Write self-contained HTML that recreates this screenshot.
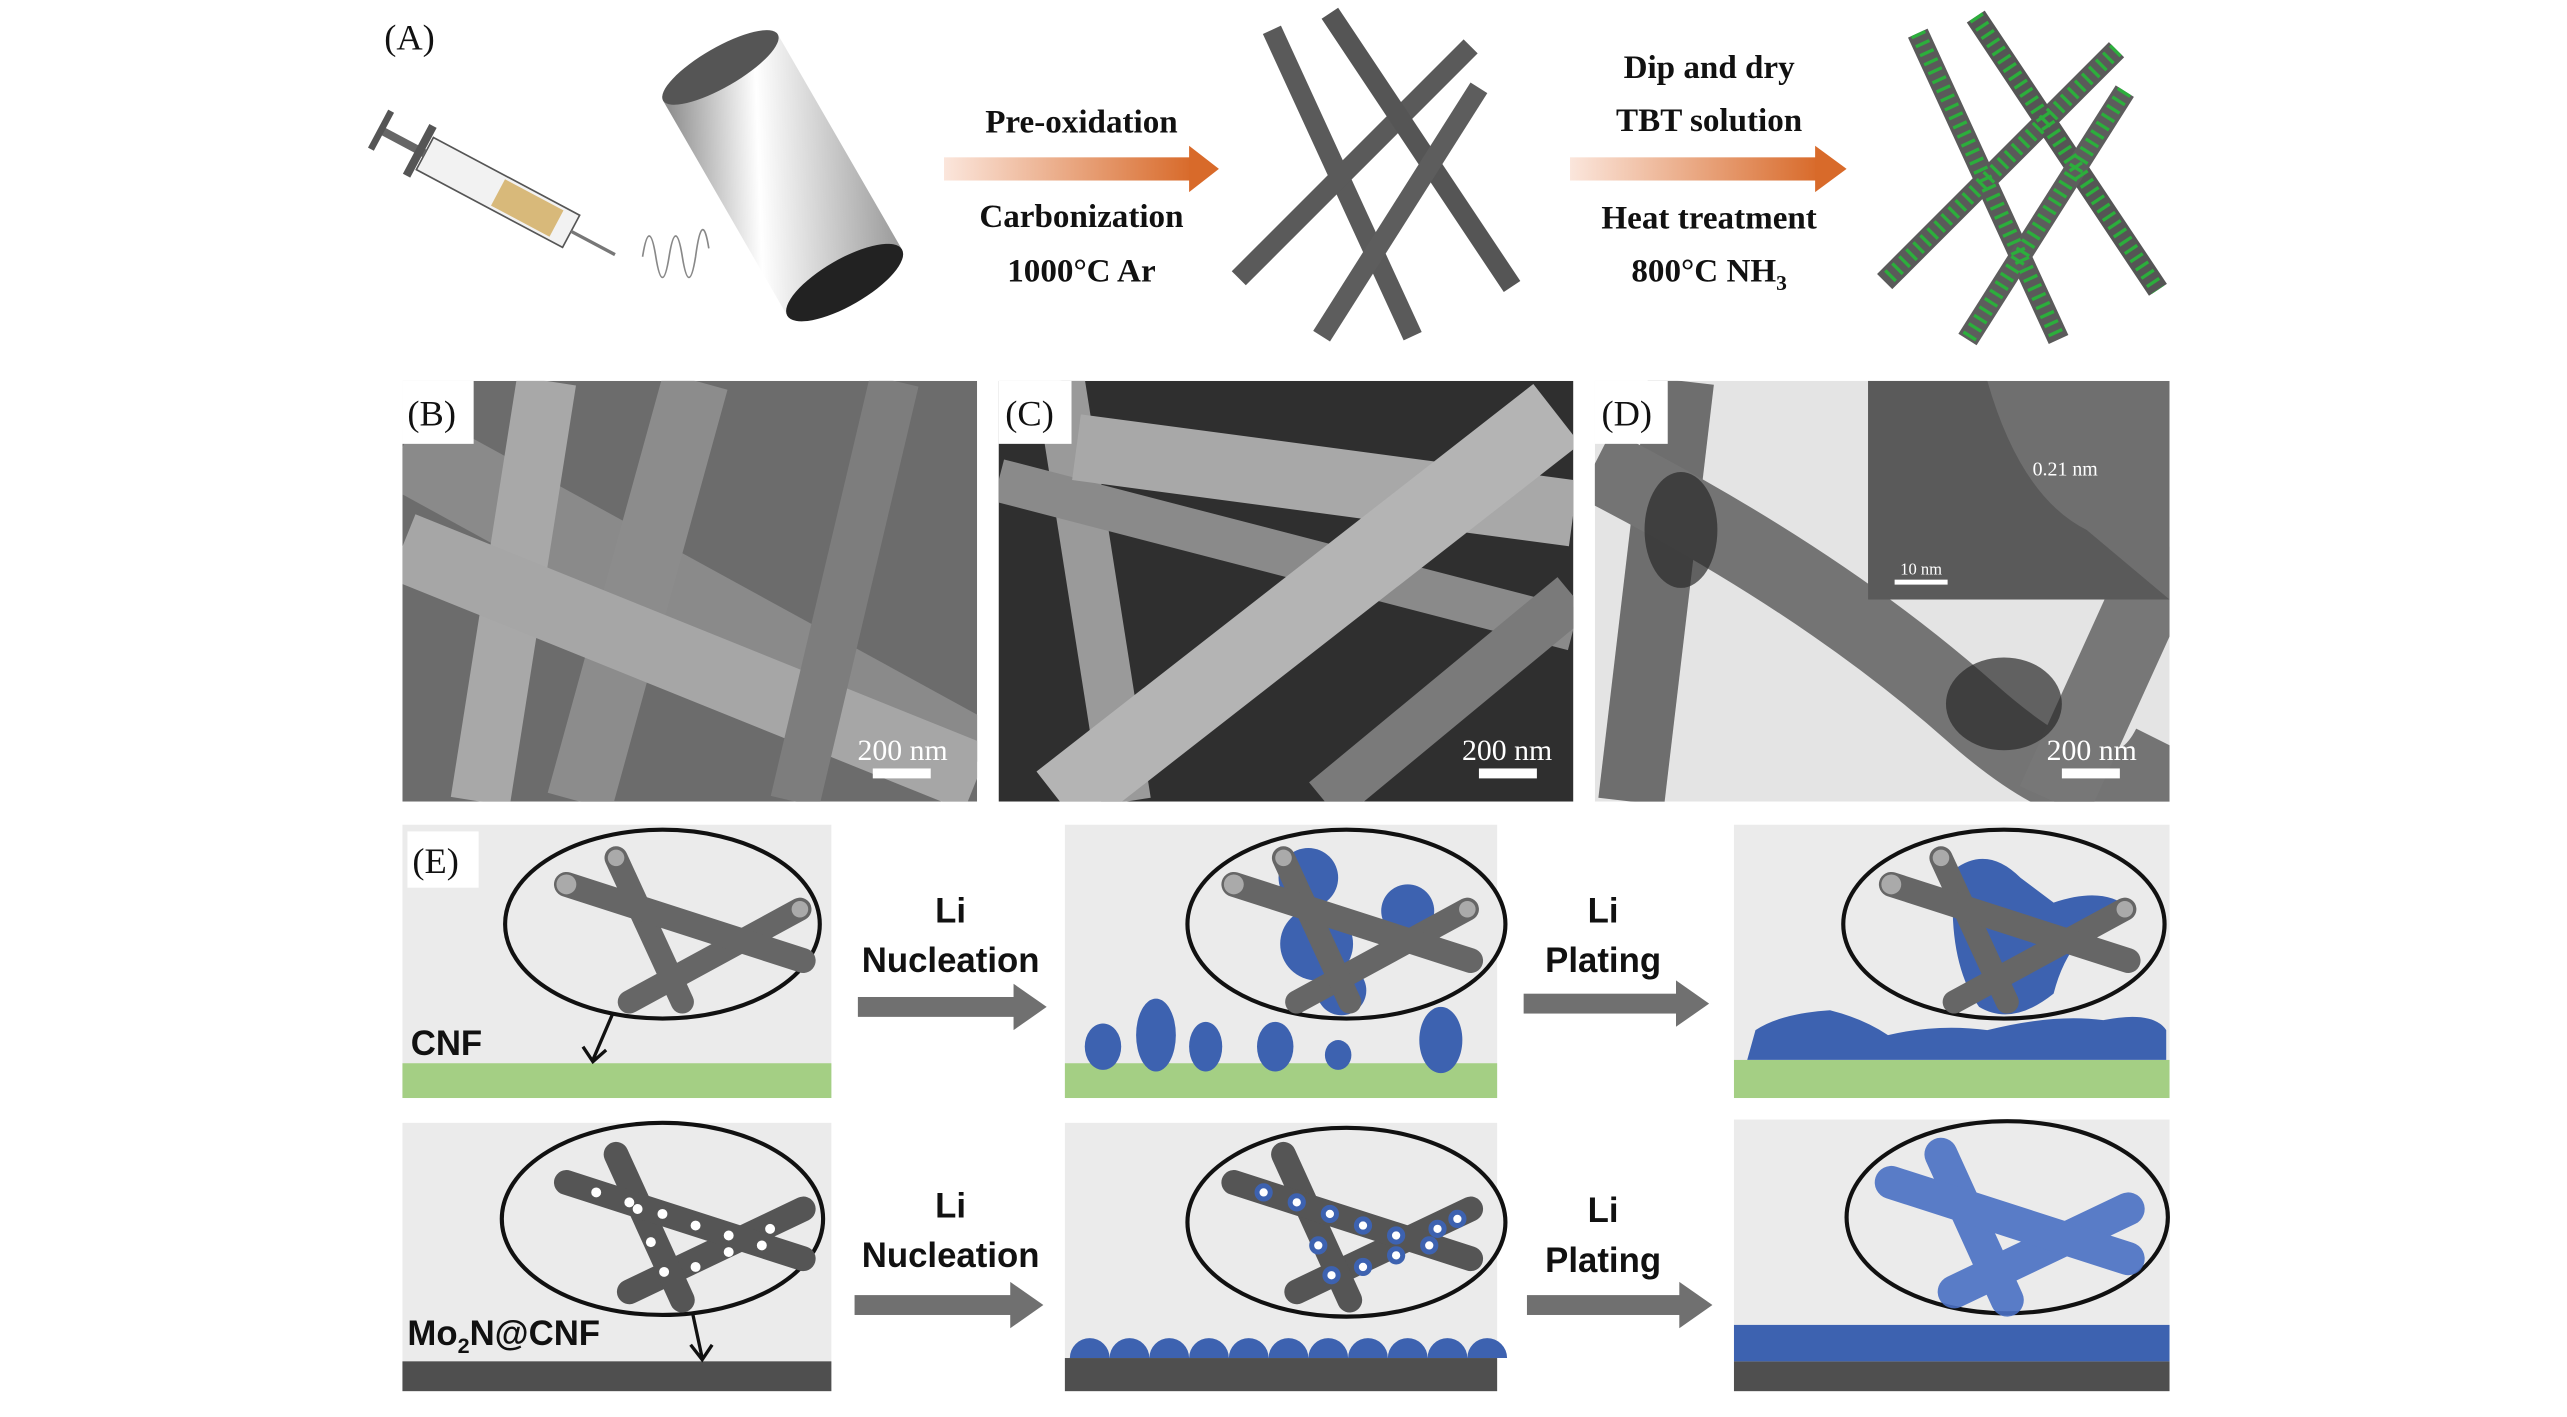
<!DOCTYPE html>
<html><head><meta charset="utf-8"><style>
html,body{margin:0;padding:0;background:#fff;width:2567px;height:1417px;overflow:hidden}
svg{display:block}
.s{font-family:"Liberation Serif",serif;font-weight:bold;fill:#111}
.l{font-family:"Liberation Serif",serif;fill:#111}
.a{font-family:"Liberation Sans",sans-serif;font-weight:bold;fill:#111}
.w{font-family:"Liberation Serif",serif;fill:#fff}
</style></head><body>
<svg width="2567" height="1417" viewBox="0 0 1550 855.6" xmlns="http://www.w3.org/2000/svg">
<defs>
<linearGradient id="og" x1="0" x2="1"><stop offset="0" stop-color="#fbe6dc"/><stop offset="1" stop-color="#d86a2a"/></linearGradient>
<linearGradient id="cyl" x1="0" y1="0" x2="1" y2="1"><stop offset="0" stop-color="#888"/><stop offset=".4" stop-color="#fff"/><stop offset="1" stop-color="#999"/></linearGradient>
<clipPath id="cB"><rect x="243" y="230" width="347" height="254"/></clipPath>
<clipPath id="cC"><rect x="603" y="230" width="347" height="254"/></clipPath>
<clipPath id="cD"><rect x="963" y="230" width="347" height="254"/></clipPath>
</defs>
<text x="232" y="30" class="l" font-size="22">(A)</text>
<!-- syringe -->
<g transform="rotate(28 310 120)">
<rect x="250" y="110" width="100" height="22" fill="#f2f2f2" stroke="#555"/>
<rect x="300" y="112" width="40" height="18" fill="#d8b97a"/>
<line x1="220" y1="121" x2="250" y2="121" stroke="#666" stroke-width="5"/>
<rect x="244" y="104" width="5" height="34" fill="#555"/>
<rect x="218" y="108" width="4" height="26" fill="#555"/>
<line x1="350" y1="121" x2="380" y2="121" stroke="#777" stroke-width="2"/>
</g>
<path d="M388 155 q4 -25 8 0 q4 25 8 0 q4 -25 8 0 q4 25 8 0 q4 -30 8 -5" fill="none" stroke="#888" stroke-width="1"/>
<g transform="rotate(-30 475 110)">
<rect x="435" y="30" width="80" height="150" fill="url(#cyl)"/>
<ellipse cx="475" cy="30" rx="40" ry="12" fill="#555"/>
<ellipse cx="475" cy="180" rx="40" ry="14" fill="#222"/>
</g>
<!-- arrows -->
<rect x="570" y="95" width="150" height="14" fill="url(#og)"/><polygon points="718,88 736,102 718,116" fill="#d86a2a"/>
<rect x="948" y="95" width="150" height="14" fill="url(#og)"/><polygon points="1096,88 1115,102 1096,116" fill="#d86a2a"/>
<text x="653" y="80" class="s" font-size="20" text-anchor="middle">Pre-oxidation</text>
<text x="653" y="137" class="s" font-size="20" text-anchor="middle">Carbonization</text>
<text x="653" y="170" class="s" font-size="20" text-anchor="middle">1000°C Ar</text>
<text x="1032" y="47" class="s" font-size="20" text-anchor="middle">Dip and dry</text>
<text x="1032" y="79" class="s" font-size="20" text-anchor="middle">TBT solution</text>
<text x="1032" y="138" class="s" font-size="20" text-anchor="middle">Heat treatment</text>
<text x="1032" y="170" class="s" font-size="20" text-anchor="middle">800°C NH<tspan font-size="13" dy="5">3</tspan></text>
<g transform="translate(828 108)">
<line x1="-60" y1="-90" x2="25" y2="95" stroke="#5a5a5a" stroke-width="12"/>
<line x1="60" y1="-80" x2="-80" y2="60" stroke="#5a5a5a" stroke-width="12"/>
<line x1="-25" y1="-100" x2="85" y2="65" stroke="#555" stroke-width="12"/>
<line x1="65" y1="-55" x2="-30" y2="95" stroke="#5d5d5d" stroke-width="12"/>
</g>
<g transform="translate(1218 110)">
<line x1="-60" y1="-90" x2="25" y2="95" stroke="#5a5a5a" stroke-width="13"/>
<line x1="60" y1="-80" x2="-80" y2="60" stroke="#5a5a5a" stroke-width="13"/>
<line x1="-25" y1="-100" x2="85" y2="65" stroke="#555" stroke-width="13"/>
<line x1="65" y1="-55" x2="-30" y2="95" stroke="#5d5d5d" stroke-width="13"/>
<g stroke-dasharray="2 4" stroke="#2cae3c" stroke-width="9">
<line x1="-60" y1="-90" x2="25" y2="95"/>
<line x1="60" y1="-80" x2="-80" y2="60"/>
<line x1="-25" y1="-100" x2="85" y2="65"/>
<line x1="65" y1="-55" x2="-30" y2="95"/>
</g></g>
<!-- B -->
<g clip-path="url(#cB)">
<rect x="243" y="230" width="347" height="254" fill="#6c6c6c"/>
<line x1="243" y1="270" x2="590" y2="460" stroke="#8a8a8a" stroke-width="50"/>
<line x1="330" y1="230" x2="290" y2="484" stroke="#a8a8a8" stroke-width="36"/>
<line x1="420" y1="230" x2="350" y2="484" stroke="#8c8c8c" stroke-width="40"/>
<line x1="243" y1="330" x2="590" y2="470" stroke="#a6a6a6" stroke-width="42"/>
<line x1="540" y1="230" x2="480" y2="484" stroke="#7d7d7d" stroke-width="30"/>
</g>
<rect x="243" y="230" width="43" height="38" fill="#fff"/><text x="246" y="257" class="l" font-size="22">(B)</text>
<text x="545" y="459" class="w" font-size="18" text-anchor="middle">200 nm</text><rect x="527" y="464" width="35" height="6" fill="#fff"/>
<!-- C -->
<g clip-path="url(#cC)">
<rect x="603" y="230" width="347" height="254" fill="#2f2f2f"/>
<line x1="640" y1="230" x2="680" y2="484" stroke="#9a9a9a" stroke-width="30"/>
<line x1="603" y1="290" x2="950" y2="380" stroke="#8a8a8a" stroke-width="26"/>
<line x1="650" y1="270" x2="950" y2="310" stroke="#a8a8a8" stroke-width="40"/>
<line x1="940" y1="250" x2="640" y2="484" stroke="#b4b4b4" stroke-width="46"/>
<line x1="950" y1="360" x2="800" y2="484" stroke="#7a7a7a" stroke-width="30"/>
</g>
<rect x="603" y="230" width="44" height="38" fill="#fff"/><text x="607" y="257" class="l" font-size="22">(C)</text>
<text x="910" y="459" class="w" font-size="18" text-anchor="middle">200 nm</text><rect x="893" y="464" width="35" height="6" fill="#fff"/>
<!-- D -->
<g clip-path="url(#cD)">
<rect x="963" y="230" width="347" height="254" fill="#e4e4e4"/>
<line x1="1015" y1="230" x2="985" y2="484" stroke="#6e6e6e" stroke-width="40"/>
<path d="M963 280 Q1100 350 1190 430 T1310 450" fill="none" stroke="#747474" stroke-width="45"/>
<line x1="1310" y1="330" x2="1240" y2="484" stroke="#777" stroke-width="45"/>
<ellipse cx="1015" cy="320" rx="22" ry="35" fill="#2a2a2a" opacity=".7"/>
<ellipse cx="1210" cy="425" rx="35" ry="28" fill="#2a2a2a" opacity=".7"/>
<rect x="1128" y="230" width="182" height="132" fill="#6f6f6f"/>
<path d="M1128 230 L1200 230 Q1220 300 1260 320 L1310 362 L1128 362Z" fill="#5a5a5a"/>
</g>
<text x="1247" y="287" class="w" font-size="12" text-anchor="middle">0.21 nm</text>
<text x="1160" y="347" class="w" font-size="10" text-anchor="middle">10 nm</text><rect x="1144" y="350" width="32" height="3" fill="#fff"/>
<rect x="963" y="230" width="44" height="38" fill="#fff"/><text x="967" y="257" class="l" font-size="22">(D)</text>
<text x="1263" y="459" class="w" font-size="18" text-anchor="middle">200 nm</text><rect x="1245" y="464" width="35" height="6" fill="#fff"/>
<!-- E panels -->
<g fill="#ebebeb">
<rect x="243" y="498" width="259" height="165"/><rect x="643" y="498" width="261" height="165"/><rect x="1047" y="498" width="263" height="165"/>
<rect x="243" y="678" width="259" height="162"/><rect x="643" y="678" width="261" height="162"/><rect x="1047" y="676" width="263" height="164"/>
</g>
<rect x="243" y="642" width="259" height="21" fill="#a4cf84"/>
<rect x="643" y="642" width="261" height="21" fill="#a4cf84"/>
<rect x="1047" y="640" width="263" height="23" fill="#a4cf84"/>
<rect x="243" y="822" width="259" height="18" fill="#4f4f4f"/>
<rect x="643" y="820" width="261" height="20" fill="#4f4f4f"/>
<rect x="1047" y="822" width="263" height="18" fill="#4f4f4f"/>
<g fill="#3d62b0">
<ellipse cx="666" cy="632" rx="11" ry="14"/><ellipse cx="698" cy="625" rx="12" ry="22"/><ellipse cx="728" cy="632" rx="10" ry="15"/>
<ellipse cx="770" cy="632" rx="11" ry="15"/><ellipse cx="808" cy="637" rx="8" ry="9"/><ellipse cx="870" cy="628" rx="13" ry="20"/>
<path d="M1055 640 L1060 622 Q1075 612 1105 610 Q1125 615 1140 625 Q1170 618 1200 622 Q1240 612 1270 616 Q1300 610 1308 622 L1308 640Z"/>
<rect x="1047" y="800" width="263" height="22"/>
<path d="M646 820 a12 12 0 0 1 24 0 a12 12 0 0 1 24 0 a12 12 0 0 1 24 0 a12 12 0 0 1 24 0 a12 12 0 0 1 24 0 a12 12 0 0 1 24 0 a12 12 0 0 1 24 0 a12 12 0 0 1 24 0 a12 12 0 0 1 24 0 a12 12 0 0 1 24 0 a12 12 0 0 1 24 0Z"/>
</g>
<g stroke="#111" stroke-width="2.5" fill="#ebebeb">
<ellipse cx="400" cy="558" rx="95" ry="57"/><ellipse cx="813" cy="558" rx="96" ry="57"/><ellipse cx="1210" cy="558" rx="97" ry="57"/>
<ellipse cx="400" cy="736" rx="97" ry="58"/><ellipse cx="813" cy="738" rx="96" ry="57"/><ellipse cx="1212" cy="735" rx="97" ry="58"/>
</g>
<g fill="#3d62b0">
<circle cx="790" cy="530" r="18"/><circle cx="795" cy="570" r="22"/><circle cx="850" cy="550" r="16"/><circle cx="810" cy="598" r="15"/>
<path d="M1180 525 Q1200 510 1220 530 L1240 545 Q1270 535 1285 548 Q1250 560 1240 600 Q1215 620 1195 608 Q1175 580 1180 525Z"/>
</g>
<g id="r1" stroke-linecap="round">
<line x1="380" y1="605" x2="483" y2="549" stroke="#666" stroke-width="14"/>
<line x1="372" y1="518" x2="412" y2="605" stroke="#666" stroke-width="14"/>
<line x1="342" y1="534" x2="485" y2="580" stroke="#666" stroke-width="15"/>
<circle cx="342" cy="534" r="6" fill="#aaa"/><circle cx="372" cy="518" r="5" fill="#aaa"/><circle cx="483" cy="549" r="5" fill="#aaa"/>
</g>
<use href="#r1" x="403" y="0"/><use href="#r1" x="800" y="0"/>
<g stroke-linecap="round">
<line x1="380" y1="780" x2="485" y2="730" stroke="#555" stroke-width="15"/>
<line x1="372" y1="697" x2="412" y2="785" stroke="#555" stroke-width="15"/>
<line x1="342" y1="714" x2="485" y2="760" stroke="#555" stroke-width="15"/>
</g>
<g fill="#fff">
<circle cx="360" cy="720" r="3"/><circle cx="380" cy="726" r="3"/><circle cx="400" cy="733" r="3"/><circle cx="420" cy="740" r="3"/><circle cx="440" cy="746" r="3"/><circle cx="460" cy="752" r="3"/>
<circle cx="385" cy="730" r="3"/><circle cx="393" cy="750" r="3"/><circle cx="401" cy="768" r="3"/><circle cx="440" cy="756" r="3"/><circle cx="465" cy="742" r="3"/><circle cx="420" cy="765" r="3"/>
</g>
<g stroke-linecap="round">
<line x1="783" y1="780" x2="888" y2="730" stroke="#555" stroke-width="15"/>
<line x1="775" y1="697" x2="815" y2="785" stroke="#555" stroke-width="15"/>
<line x1="745" y1="714" x2="888" y2="760" stroke="#555" stroke-width="15"/>
</g>
<g fill="#fff" stroke="#3d62b0" stroke-width="3">
<circle cx="763" cy="720" r="4"/><circle cx="783" cy="726" r="4"/><circle cx="803" cy="733" r="4"/><circle cx="823" cy="740" r="4"/><circle cx="843" cy="746" r="4"/><circle cx="863" cy="752" r="4"/>
<circle cx="796" cy="752" r="4"/><circle cx="804" cy="770" r="4"/><circle cx="843" cy="758" r="4"/><circle cx="868" cy="742" r="4"/><circle cx="823" cy="765" r="4"/><circle cx="880" cy="736" r="4"/>
</g>
<g stroke-linecap="round" stroke="#4a70c4" opacity=".9">
<line x1="1180" y1="780" x2="1285" y2="730" stroke-width="20"/>
<line x1="1172" y1="697" x2="1212" y2="785" stroke-width="20"/>
<line x1="1142" y1="714" x2="1285" y2="760" stroke-width="20"/>
</g>
<path d="M370 612 L358 640 M352 632 L358 641 L366 634" stroke="#111" stroke-width="2" fill="none"/>
<path d="M418 792 L424 820 M417 812 L424 821 L430 812" stroke="#111" stroke-width="2" fill="none"/>
<rect x="246" y="502" width="43" height="34" fill="#fff"/><text x="249" y="527" class="l" font-size="22">(E)</text>
<text x="248" y="637" class="a" font-size="21">CNF</text>
<text x="246" y="812" class="a" font-size="21">Mo<tspan font-size="13" dy="5">2</tspan><tspan dy="-5">N@CNF</tspan></text>
<g fill="#707070">
<rect x="518" y="602" width="95" height="12"/><polygon points="612,594 632,608 612,622"/>
<rect x="920" y="600" width="93" height="12"/><polygon points="1012,592 1032,606 1012,620"/>
<rect x="516" y="782" width="95" height="12"/><polygon points="610,774 630,788 610,802"/>
<rect x="922" y="782" width="93" height="12"/><polygon points="1014,774 1034,788 1014,802"/>
</g>
<g font-size="21" text-anchor="middle">
<text x="574" y="557" class="a">Li</text><text x="574" y="587" class="a">Nucleation</text>
<text x="968" y="557" class="a">Li</text><text x="968" y="587" class="a">Plating</text>
<text x="574" y="735" class="a">Li</text><text x="574" y="765" class="a">Nucleation</text>
<text x="968" y="738" class="a">Li</text><text x="968" y="768" class="a">Plating</text>
</g>
</svg>
</body></html>
